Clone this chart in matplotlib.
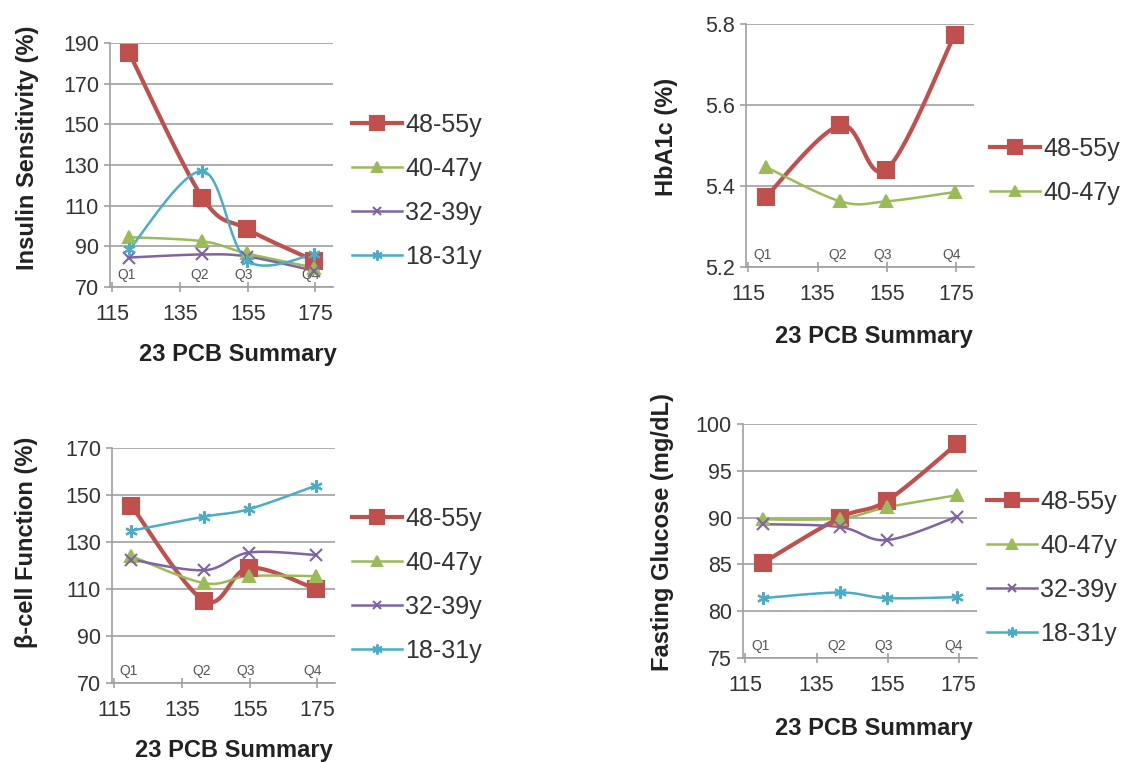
import numpy as np
import matplotlib
matplotlib.use("Agg")
import matplotlib.pyplot as plt
from matplotlib.transforms import blended_transform_factory, ScaledTranslation

plt.rcParams["font.family"] = ["Liberation Sans", "DejaVu Sans"]

W, H = 1122, 762

# quartile positions on the 23 PCB summary axis
pcb_x = [120, 141.6, 154.8, 174.6]
quartiles = ["Q1", "Q2", "Q3", "Q4"]
groups = ["48-55y", "40-47y", "32-39y", "18-31y"]

# Insulin sensitivity (%)
ins_48_55 = [185, 114, 98.5, 83]
ins_40_47 = [94.5, 92.5, 86.5, 79.5]
ins_32_39 = [84.5, 86, 85, 78]
ins_18_31 = [88.5, 127, 83, 86]

# HbA1c (%)
hba_48_55 = [5.373, 5.55, 5.44, 5.773]
hba_40_47 = [5.447, 5.362, 5.362, 5.385]

# beta-cell function (%)
beta_48_55 = [145.5, 105, 119, 110]
beta_40_47 = [124, 112.5, 115.5, 115.5]
beta_32_39 = [122.5, 118, 125.5, 124.5]
beta_18_31 = [134.8, 140.8, 144, 154]

# fasting glucose (mg/dL)
glu_48_55 = [85.2, 90, 91.8, 97.9]
glu_40_47 = [89.8, 89.9, 91.1, 92.4]
glu_32_39 = [89.3, 89, 87.6, 90.1]
glu_18_31 = [81.4, 82.0, 81.4, 81.5]

style = {
    "48-55y": dict(color="#C0504D", lw=3.0, marker="s", ms=12),
    "40-47y": dict(color="#9BBB59", lw=1.8, marker="^", ms=9),
    "32-39y": dict(color="#8064A2", lw=1.8, marker="x", ms=8),
    "18-31y": dict(color="#4BACC6", lw=1.8, marker=(6, 2, 0), ms=9),
}

GRID = "#a0a0a0"
TXT = "#333333"


def smooth(xs, ys, n=40):
    # excel-like smoothed line through the points
    pts = np.column_stack([xs, ys]).astype(float)
    ext = np.vstack([pts[0], pts, pts[-1]])
    t = np.linspace(0, 1, n)[:, None]
    out = []
    for i in range(len(pts) - 1):
        p0, p1, p2, p3 = ext[i], ext[i + 1], ext[i + 2], ext[i + 3]
        c1 = p1 + (p2 - p0) / 6
        c2 = p2 - (p3 - p1) / 6
        seg = ((1 - t) ** 3) * p1 + 3 * ((1 - t) ** 2) * t * c1 \
            + 3 * (1 - t) * t ** 2 * c2 + t ** 3 * p2
        out.append(seg if i == 0 else seg[1:])
    seg = np.vstack(out)
    return seg[:, 0], seg[:, 1]


def make_panel(fig, box, series, ylim, yticks, ylabels, ylab, ylab_pos,
               xlab_pos, leg_pos):
    l, t, r, b = box
    ax = fig.add_axes([l / W, 1 - b / H, (r - l) / W, (b - t) / H])
    for name, ys in series:
        st = style[name]
        sx, sy = smooth(pcb_x, ys)
        ax.plot(sx, sy, color=st["color"], lw=st["lw"], zorder=3)
        ax.plot(pcb_x, ys, ls="none", marker=st["marker"], ms=st["ms"],
                color=st["color"], mec=st["color"], mew=1.5, zorder=4)
        ax.plot([], [], color=st["color"], lw=st["lw"], marker=st["marker"],
                ms=st["ms"] * 0.8, mew=1.5, label=name)
    ax.set_xlim(114.3, 180.2)
    ax.set_ylim(*ylim)
    ax.set_xticks([115, 135, 155, 175])
    ax.set_yticks(yticks)
    ax.set_yticklabels(ylabels)
    ax.grid(axis="y", color=GRID, lw=1.2)
    ax.set_axisbelow(True)
    for s in ["top", "right"]:
        ax.spines[s].set_visible(False)
    for s in ["left", "bottom"]:
        ax.spines[s].set_color(GRID)
        ax.spines[s].set_linewidth(1.2)
    ax.tick_params(axis="y", direction="out", length=4, width=1.2,
                   color=GRID, labelsize=15.5, labelcolor=TXT, pad=4)
    ax.tick_params(axis="x", direction="inout", length=7, width=1.2,
                   color=GRID, labelsize=15.5, labelcolor=TXT, pad=9)
    trans = blended_transform_factory(ax.transData, ax.transAxes)
    off = ScaledTranslation(-3 / 100, 0, fig.dpi_scale_trans)
    for q, qx in zip(quartiles, pcb_x):
        ax.text(qx, 0.02, q, transform=trans + off, ha="center", va="bottom",
                fontsize=10, color="#555555")
    fig.text(ylab_pos[0] / W, 1 - ylab_pos[1] / H, ylab, rotation=90,
             ha="center", va="center", fontsize=17, fontweight="bold",
             color="#222222")
    fig.text(xlab_pos[0] / W, 1 - xlab_pos[1] / H, "23 PCB Summary",
             ha="right", va="center", fontsize=17, fontweight="bold",
             color="#222222")
    ax.legend(loc="upper left", bbox_to_anchor=(leg_pos[0] / W, 1 - leg_pos[1] / H),
              bbox_transform=fig.transFigure, frameon=False, fontsize=18,
              borderpad=0, borderaxespad=0, handlelength=2.0,
              handletextpad=0.12, labelspacing=0.8, labelcolor=TXT,
              numpoints=1)
    return ax


fig = plt.figure(figsize=(W / 100, H / 100), dpi=100)

make_panel(fig, (110, 43, 333, 287),
           [("48-55y", ins_48_55), ("40-47y", ins_40_47),
            ("32-39y", ins_32_39), ("18-31y", ins_18_31)],
           (70, 190), range(70, 191, 20), [str(v) for v in range(70, 191, 20)],
           "Insulin Sensitivity (%)", (28, 148), (337, 354), (352, 113))

make_panel(fig, (746, 24, 974, 267),
           [("48-55y", hba_48_55), ("40-47y", hba_40_47)],
           (5.2, 5.8), [5.2, 5.4, 5.6, 5.8], ["5.2", "5.4", "5.6", "5.8"],
           "HbA1c (%)", (667, 137), (973, 336), (990, 137))

make_panel(fig, (112, 448, 335, 683),
           [("48-55y", beta_48_55), ("40-47y", beta_40_47),
            ("32-39y", beta_32_39), ("18-31y", beta_18_31)],
           (70, 170), range(70, 171, 20), [str(v) for v in range(70, 171, 20)],
           "β-cell Function (%)", (27, 542), (333, 750), (352, 507))

make_panel(fig, (743, 424, 977, 658),
           [("48-55y", glu_48_55), ("40-47y", glu_40_47),
            ("32-39y", glu_32_39), ("18-31y", glu_18_31)],
           (75, 100), range(75, 101, 5), [str(v) for v in range(75, 101, 5)],
           "Fasting Glucose (mg/dL)", (662, 532), (973, 729), (987, 490))

fig.savefig("out.png", dpi=100)
